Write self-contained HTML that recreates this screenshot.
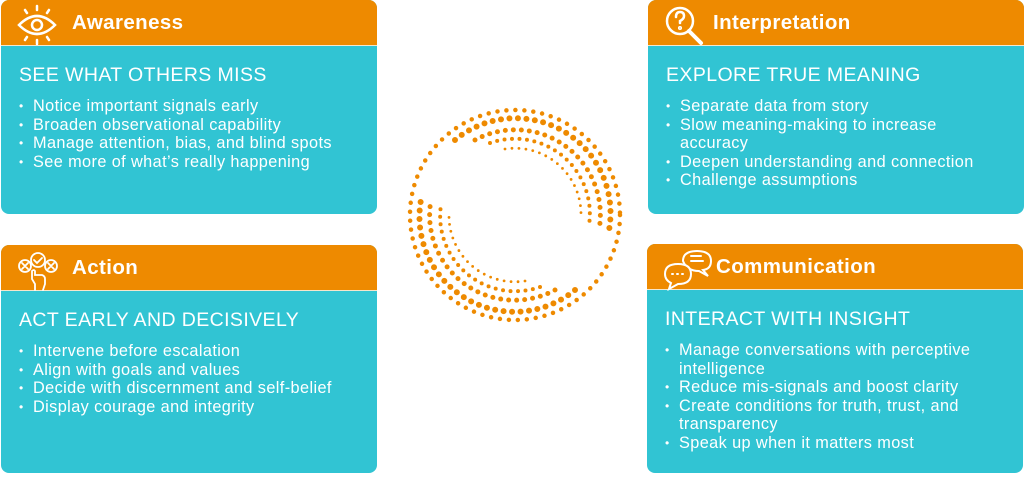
<!DOCTYPE html>
<html><head><meta charset="utf-8"><style>
*{margin:0;padding:0;box-sizing:border-box}
body{width:1024px;height:484px;background:#fff;position:relative;overflow:hidden;font-family:"Liberation Sans",sans-serif;color:#fff}
.card{position:absolute;width:376px;background:#31c4d3;border-radius:8px;overflow:hidden}
.hd{height:46px;background:#ee8a00;border-bottom:1.5px solid #f5e6cc;position:relative}
.hd .t{position:absolute;left:71px;top:11px;font-size:20.5px;font-weight:bold;letter-spacing:0.4px}
.hd svg{position:absolute;left:14px;top:3px}
.sub{position:absolute;left:18px;top:64px;font-size:19.5px;letter-spacing:0.4px}
ul{position:absolute;left:18px;top:97px;list-style:none;font-size:16.3px;line-height:18.6px;letter-spacing:0.4px}
li{padding-left:14px;position:relative}
li:before{content:"•";position:absolute;left:0;font-size:12px}
</style></head><body>

<div class="card" style="left:1px;top:0;height:214px">
 <div class="hd"><svg width="50" height="42" viewBox="0 0 50 42" fill="none" stroke="#fff" stroke-width="2.5" stroke-linecap="round"><path d="M4 22 Q22 4 40 22 Q22 40 4 22Z"/><circle cx="22" cy="22" r="5"/><path d="M22 3v4M10 7l2 3M34 7l-2 3M22 37v4M10 37l2-3M34 37l-2-3"/></svg><span class="t">Awareness</span></div>
 <div class="sub">SEE WHAT OTHERS MISS</div>
 <ul><li>Notice important signals early</li><li>Broaden observational capability</li><li>Manage attention, bias, and blind spots</li><li>See more of what’s really happening</li></ul>
</div>

<div class="card" style="left:648px;top:0;height:214px">
 <div class="hd"><svg width="50" height="44" viewBox="0 0 50 44" fill="none" stroke="#fff" stroke-width="2.5" stroke-linecap="round"><circle cx="18" cy="18" r="13"/><path d="M27 28l12 12" stroke-width="4"/><path d="M14 14q0-5 4-5t4 4q0 3-4 5v2"/><circle cx="18" cy="25" r="0.8"/></svg><span class="t" style="left:65px">Interpretation</span></div>
 <div class="sub">EXPLORE TRUE MEANING</div>
 <ul><li>Separate data from story</li><li>Slow meaning-making to increase<br>accuracy</li><li>Deepen understanding and connection</li><li>Challenge assumptions</li></ul>
</div>

<div class="card" style="left:1px;top:245px;height:228px">
 <div class="hd"><svg width="50" height="44" viewBox="0 0 50 44" fill="none" stroke="#fff" stroke-width="1.8" stroke-linecap="round"><circle cx="10" cy="18" r="6"/><circle cx="36" cy="18" r="6"/><circle cx="23" cy="12" r="7"/><path d="M7 15l6 6M13 15l-6 6M33 15l6 6M39 15l-6 6M19 12l3 3 5-5"/><path d="M20 42v-6l-3-5v-8q2-2 3 0v4h7q3 1 3 4v5l-2 6"/></svg><span class="t">Action</span></div>
 <div class="sub">ACT EARLY AND DECISIVELY</div>
 <ul><li>Intervene before escalation</li><li>Align with goals and values</li><li>Decide with discernment and self-belief</li><li>Display courage and integrity</li></ul>
</div>

<div class="card" style="left:647px;top:244px;height:229px">
 <div class="hd"><svg width="56" height="44" viewBox="0 0 56 44" fill="none" stroke="#fff" stroke-width="2" stroke-linecap="round"><path d="M22 14q0-10 14-10t14 10q0 8-8 9l5 6-9-5q-12 0-16-10z"/><path d="M30 9h10M30 14h12"/><path d="M4 27q0-10 13-10t13 10-13 10l-9 5 2-6q-6-3-6-9z" fill="#ee8a00"/><path d="M11 27h1M16 27h1M21 27h1"/></svg><span class="t" style="left:69px">Communication</span></div>
 <div class="sub">INTERACT WITH INSIGHT</div>
 <ul><li>Manage conversations with perceptive<br>intelligence</li><li>Reduce mis-signals and boost clarity</li><li>Create conditions for truth, trust, and<br>transparency</li><li>Speak up when it matters most</li></ul>
</div>

<svg style="position:absolute;left:400px;top:95px" width="230" height="240" viewBox="0 0 230 240" fill="none" stroke="#ee8a00" stroke-linecap="round">
 <g transform="translate(115,120)">
  <circle r="105" stroke-width="4.5" stroke-dasharray="0 9"/>
  <path d="M-60 -75 A95 95 0 0 1 93 20" stroke-width="6" stroke-dasharray="0 8.5"/>
  <path d="M-40 -75 A85 85 0 0 1 84 15" stroke-width="5" stroke-dasharray="0 8"/>
  <path d="M-25 -72 A75 75 0 0 1 74 10" stroke-width="4" stroke-dasharray="0 7.5"/>
  <path d="M-10 -66 A66 66 0 0 1 66 0" stroke-width="2.8" stroke-dasharray="0 7"/>
  <path d="M60 75 A95 95 0 0 1 -93 -20" stroke-width="6" stroke-dasharray="0 8.5"/>
  <path d="M40 75 A85 85 0 0 1 -84 -15" stroke-width="5" stroke-dasharray="0 8"/>
  <path d="M25 72 A75 75 0 0 1 -74 -10" stroke-width="4" stroke-dasharray="0 7.5"/>
  <path d="M10 66 A66 66 0 0 1 -66 0" stroke-width="2.8" stroke-dasharray="0 7"/>
 </g>
</svg>
</body></html>
